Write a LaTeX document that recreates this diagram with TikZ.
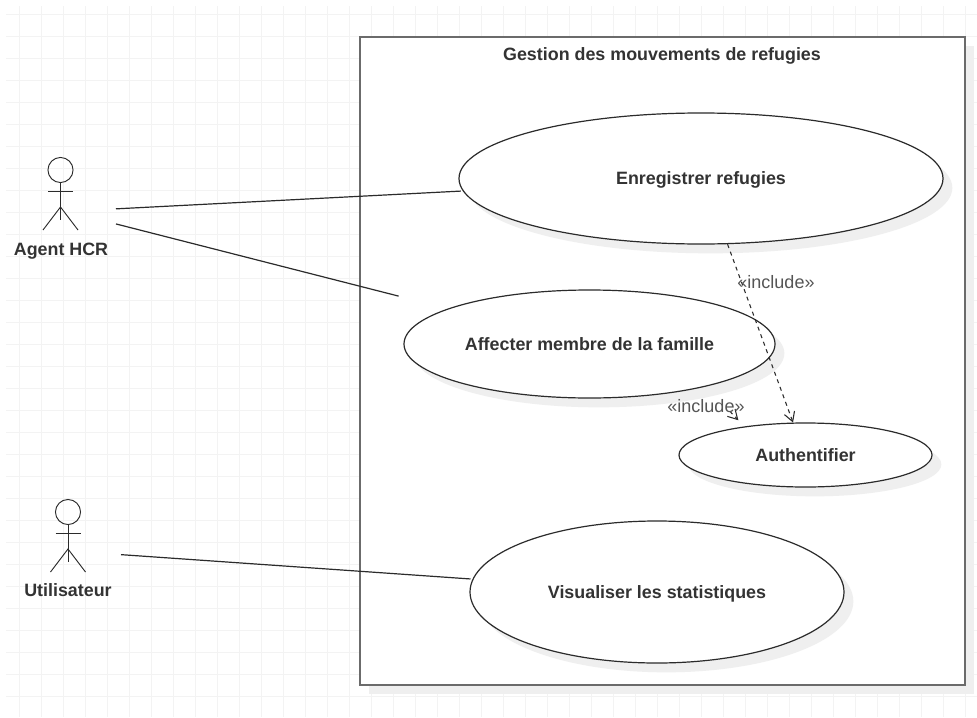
\documentclass[tikz,border=0pt]{standalone}
\usepackage{fontspec}
\setmainfont{Liberation Sans}
\usetikzlibrary{shapes.geometric,shadows,arrows.meta}
\definecolor{gridgray}{HTML}{F3F3F3}
\definecolor{shadowgray}{HTML}{EFEFEF}
\definecolor{linegray}{HTML}{2B2B2B}
\definecolor{textgray}{HTML}{333333}
\definecolor{stereogray}{HTML}{555555}
\newcommand{\actorfig}[2]{%
    \draw[actorline] (#1,#2) circle (9.4pt);
    \draw[actorline] (#1,#2+12.5) -- ++(0,37);
    \draw[actorline] (#1-12.5,#2+21.5) -- ++(25,0);
    \draw[actorline] (#1-17.5,#2+60) -- (#1,#2+37) -- (#1+17.5,#2+60);
}
\begin{document}
\begin{tikzpicture}[
    x=0.75pt, y=-0.75pt,
    usecase/.style={ellipse, draw=linegray, fill=white, line width=0.9pt, inner sep=0pt, text depth=0pt, font=\bfseries\fontsize{13.4}{16}\selectfont, text=textgray,
        drop shadow={shadow xshift=7pt, shadow yshift=-7pt, fill=shadowgray, opacity=1}},
    sysbox/.style={rectangle, draw=linegray!70, fill=white, line width=1pt, inner sep=0pt,
        drop shadow={shadow xshift=7pt, shadow yshift=-7pt, fill=shadowgray, opacity=1}},
    actorbox/.style={rectangle, inner sep=0pt, outer sep=0pt, minimum height=75pt},
    actorline/.style={draw=linegray, line width=0.7pt},
    actorlabel/.style={font=\bfseries\fontsize{13.4}{16}\selectfont, text=textgray, inner sep=0pt, text depth=0pt},
    assoc/.style={draw=linegray, line width=0.9pt},
    inclusion/.style={draw=linegray, line width=0.8pt, dash pattern=on 3pt off 3pt, -{Straight Barb[length=7pt,width=8pt]}},
    stereo/.style={font=\fontsize{13.5}{16}\selectfont, text=stereogray, inner sep=0pt}
]
\useasboundingbox (0,0) rectangle (977,717);

% Grille de fond
\foreach \gx in {19,41,...,977} \draw[gridgray] (\gx,6) -- (\gx,717);
\foreach \gy in {14,36,...,717} \draw[gridgray] (6,\gy) -- (977,\gy);

% Systeme
\node[sysbox, minimum width=453.75pt, minimum height=486pt] (system) at (662.5,361) {};
\node[font=\bfseries\fontsize{13.4}{16}\selectfont, text=textgray, inner sep=0pt, text depth=0pt] (title) at (662,54) {Gestion des mouvements de refugies};

% Cas d'utilisation
\node[usecase, minimum width=363pt, minimum height=98.25pt] (enreg) at (701,178.5) {Enregistrer refugies};
\node[usecase, minimum width=278.25pt, minimum height=81pt] (affect) at (589.5,344) {Affecter membre de la famille};
\node[usecase, minimum width=189.75pt, minimum height=48pt] (auth) at (805.5,455) {Authentifier};
\node[usecase, minimum width=280.5pt, minimum height=106.5pt] (visu) at (657,592) {Visualiser les statistiques};

% Acteurs
\node[actorbox, minimum width=82.5pt] (agent) at (61,205) {};
\node[actorbox, minimum width=79.5pt] (user) at (68,550) {};
\actorfig{60.5}{170}
\actorfig{68}{512}
\node[actorlabel] (agentlabel) at (61,249) {Agent HCR};
\node[actorlabel] (userlabel) at (68,590) {Utilisateur};

% Associations
\draw[assoc, shorten >=1.5pt] (agent.-4.16) -- (enreg.183.5);
\draw[assoc, shorten >=38pt] (agent.-19.06) -- (affect.166);
\draw[assoc, shorten >=1.5pt] (user.-5.4) -- (visu.176.1);

% Inclusions
\draw[inclusion] (enreg.-68.2) -- (auth.111.3);
\draw[inclusion, shorten <=25.5pt, shorten >=6.4pt] (affect.-20.9) -- (auth.155.2);
\node[stereo] (inclone) at (776,282) {«include»};
\node[stereo] (incltwo) at (706,406) {«include»};

\end{tikzpicture}
\end{document}
